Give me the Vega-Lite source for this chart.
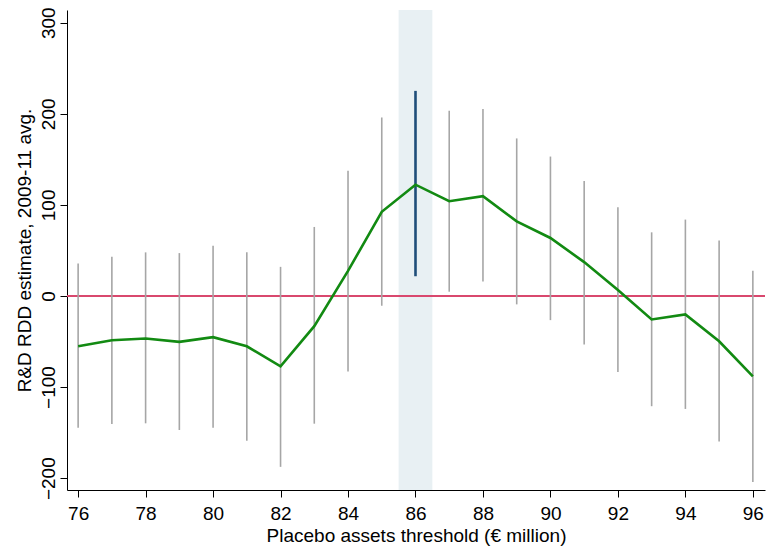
{
  "$schema": "https://vega.github.io/schema/vega-lite/v6.json",
  "width": 698,
  "height": 480,
  "autosize": {"type": "none"},
  "padding": {"left": 67, "top": 10, "right": 2, "bottom": 60},
  "background": "white",
  "config": {
    "view": {"stroke": null},
    "font": "Liberation Sans",
    "axis": {"grid": false, "domainColor": "#000000", "tickColor": "#000000", "labelColor": "#000000", "titleColor": "#000000", "labelFont": "Liberation Sans", "titleFont": "Liberation Sans", "labelFontSize": 19, "titleFontSize": 19, "titleFontWeight": "normal", "tickSize": 7, "domainWidth": 1, "tickWidth": 1}
  },
  "data": {"values": [
    {"t": 76, "est": -55.2, "lo": -144.6, "hi": 35.8},
    {"t": 77, "est": -48.6, "lo": -140.5, "hi": 43.0},
    {"t": 78, "est": -46.7, "lo": -139.8, "hi": 47.9},
    {"t": 79, "est": -50.4, "lo": -147.1, "hi": 47.1},
    {"t": 80, "est": -45.2, "lo": -144.6, "hi": 55.2},
    {"t": 81, "est": -55.2, "lo": -158.9, "hi": 47.9},
    {"t": 82, "est": -77.3, "lo": -187.6, "hi": 32.0},
    {"t": 83, "est": -33.1, "lo": -140.2, "hi": 75.8},
    {"t": 84, "est": 27.6, "lo": -82.8, "hi": 137.4},
    {"t": 85, "est": 92.4, "lo": -10.7, "hi": 196.0},
    {"t": 86, "est": 122.2, "lo": 21.7, "hi": 225.2},
    {"t": 87, "est": 104.1, "lo": 4.7, "hi": 203.4},
    {"t": 88, "est": 109.6, "lo": 15.8, "hi": 205.3},
    {"t": 89, "est": 82.0, "lo": -9.2, "hi": 173.0},
    {"t": 90, "est": 63.7, "lo": -26.5, "hi": 153.1},
    {"t": 91, "est": 37.2, "lo": -53.3, "hi": 126.2},
    {"t": 92, "est": 6.6, "lo": -83.5, "hi": 97.5},
    {"t": 93, "est": -25.8, "lo": -121.0, "hi": 69.9},
    {"t": 94, "est": -20.2, "lo": -124.0, "hi": 83.9},
    {"t": 95, "est": -49.7, "lo": -159.7, "hi": 61.0},
    {"t": 96, "est": -88.3, "lo": -204.2, "hi": 27.6}
  ]},
  "encoding": {
    "x": {"field": "t", "type": "quantitative", "scale": {"domain": [75.67, 96.36], "nice": false, "zero": false},
      "axis": {"values": [76, 78, 80, 82, 84, 86, 88, 90, 92, 94, 96], "title": "Placebo assets threshold (€ million)", "labelPadding": 7, "titlePadding": 3}}
  },
  "layer": [
    {
      "data": {"values": [{"a": 85.5, "b": 86.5}]},
      "mark": {"type": "rect", "color": "#e8f0f3"},
      "encoding": {"x": {"field": "a", "type": "quantitative"}, "x2": {"field": "b"}, "y": {"value": 0}, "y2": {"value": 480}}
    },
    {
      "mark": {"type": "rule", "color": "#d9486e", "strokeWidth": 2},
      "encoding": {"x": {"value": 0}, "x2": {"value": 698}, "y": {"datum": 0, "type": "quantitative"}}
    },
    {
      "transform": [{"filter": "datum.t != 86"}],
      "mark": {"type": "rule", "color": "#a6a6a6", "strokeWidth": 1.6},
      "encoding": {
        "y": {"field": "lo", "type": "quantitative", "scale": {"domain": [-213, 314], "nice": false},
          "axis": {"values": [-200, -100, 0, 100, 200, 300], "title": "R&D RDD estimate, 2009-11 avg.", "labelAngle": -90, "labelAlign": "center", "labelBaseline": "bottom", "labelPadding": 2, "titlePadding": 5}},
        "y2": {"field": "hi"}
      }
    },
    {
      "transform": [{"filter": "datum.t == 86"}],
      "mark": {"type": "rule", "color": "#1f4e79", "strokeWidth": 2.6},
      "encoding": {"y": {"field": "lo", "type": "quantitative"}, "y2": {"field": "hi"}}
    },
    {
      "mark": {"type": "line", "color": "#128a12", "strokeWidth": 2.6},
      "encoding": {"y": {"field": "est", "type": "quantitative"}}
    }
  ]
}
